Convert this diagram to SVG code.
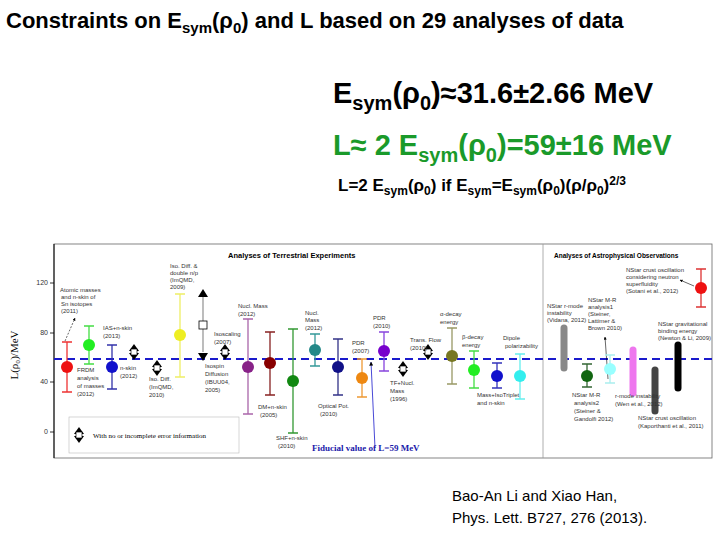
<svg xmlns="http://www.w3.org/2000/svg" width="720" height="540" viewBox="0 0 720 540">
<style>
.h{font-family:"Liberation Sans",Arial,sans-serif;font-weight:bold}
.s{font-family:"Liberation Sans",Arial,sans-serif;font-size:6px;fill:#333}
.e{stroke-width:1.3;fill:none}
.tk{stroke-width:7;stroke-linecap:round;fill:none}
</style>
<defs>
<marker id="ar" viewBox="0 0 10 10" refX="9" refY="5" markerWidth="5" markerHeight="5" orient="auto"><path d="M0,0L10,5L0,10z" fill="#000"/></marker>
<g id="sym"><path d="M0,-8L-5,-1H5z" fill="#000"/><path d="M0,8L-5,1H5z" fill="#000"/><rect x="-3" y="-3" width="6" height="6" fill="#fff" stroke="#000" stroke-width="0.7"/></g>
</defs>
<rect width="720" height="540" fill="#fff"/>
<text class="h" x="6" y="28" font-size="22">Constraints on E<tspan font-size="15" dy="5">sym</tspan><tspan dy="-5">(ρ</tspan><tspan font-size="15" dy="5">0</tspan><tspan dy="-5">) and L based on 29 analyses of data</tspan></text>
<text class="h" x="333" y="103" font-size="29">E<tspan font-size="20" dy="7">sym</tspan><tspan dy="-7">(ρ</tspan><tspan font-size="20" dy="7">0</tspan><tspan dy="-7">)≈31.6±2.66 MeV</tspan></text>
<text class="h" x="333" y="155" font-size="29" fill="#1a9a2a">L≈ 2 E<tspan font-size="20" dy="7">sym</tspan><tspan dy="-7">(ρ</tspan><tspan font-size="20" dy="7">0</tspan><tspan dy="-7">)=59±16 MeV</tspan></text>
<text class="h" x="338" y="191" font-size="17">L=2 E<tspan font-size="12" dy="4">sym</tspan><tspan dy="-4">(ρ</tspan><tspan font-size="12" dy="4">0</tspan><tspan dy="-4">) if E</tspan><tspan font-size="12" dy="4">sym</tspan><tspan dy="-4">=E</tspan><tspan font-size="12" dy="4">sym</tspan><tspan dy="-4">(ρ</tspan><tspan font-size="12" dy="4">0</tspan><tspan dy="-4">)(ρ/ρ</tspan><tspan font-size="12" dy="4">0</tspan><tspan dy="-4">)</tspan><tspan font-size="12" dy="-6">2/3</tspan></text>

<g id="plot">
<rect x="54" y="244" width="658" height="214" fill="#fff" stroke="#666" stroke-width="0.8"/>
<line x1="543" y1="244" x2="543" y2="458" stroke="#999" stroke-width="0.8"/>
<line x1="54" y1="244" x2="54" y2="458" stroke="#000" stroke-width="1"/>
<g stroke="#000" stroke-width="0.8"><line x1="50" y1="283" x2="54" y2="283"/><line x1="50" y1="333" x2="54" y2="333"/><line x1="50" y1="382" x2="54" y2="382"/><line x1="50" y1="432" x2="54" y2="432"/></g>
<g class="s" text-anchor="end" style="font-size:7px"><text x="48" y="285">120</text><text x="48" y="335">80</text><text x="48" y="384">40</text><text x="48" y="434">0</text></g>
<text x="18" y="355" transform="rotate(-90 18 355)" text-anchor="middle" font-family="Liberation Serif,serif" font-size="11">L(ρ₀)/MeV</text>
<text class="h" x="228" y="258" font-size="7.5">Analyses of Terrestrial Experiments</text>
<text class="h" x="554" y="258" font-size="6.5">Analyses of Astrophysical Observations</text>
<line x1="54" y1="359" x2="712" y2="359" stroke="#1a1acc" stroke-width="2" stroke-dasharray="8,5"/>
</g>

<g id="connectors">
<line x1="65" y1="341" x2="75" y2="318" stroke="#000" stroke-width="0.6" stroke-dasharray="2,1.5" marker-end="url(#ar)"/>
<line x1="375" y1="448" x2="371" y2="362" stroke="#1a1acc" stroke-width="0.8" marker-end="url(#ar)"/>
<line x1="608" y1="379" x2="605" y2="337" stroke="#000" stroke-width="0.6" marker-end="url(#ar)"/>
<line x1="694" y1="286" x2="680" y2="280" stroke="#000" stroke-width="0.6" marker-end="url(#ar)"/>
</g>

<g id="n1"><path class="e" stroke="#e33" d="M67,342V392M62,342H72M62,392H72"/><circle cx="67" cy="367" r="6" fill="#e11"/></g>
<g id="n2"><path class="e" stroke="#4d4" d="M89,326V364M84,326H94M84,364H94"/><circle cx="89" cy="345" r="6" fill="#2e2"/></g>
<g id="n3"><path class="e" stroke="#33a" d="M112,345V389M107,345H117M107,389H117"/><circle cx="112" cy="367" r="6" fill="#11c"/></g>
<g id="n4"><use href="#sym" x="134" y="352"/></g>
<g id="n5"><use href="#sym" x="157" y="368"/></g>
<g id="n6"><path class="e" stroke="#ee6" d="M180,294V377M175,294H185M175,377H185"/><circle cx="180" cy="335" r="6" fill="#ee2"/></g>
<g id="n7"><path class="e" stroke="#999" d="M203,297V352"/><path d="M203,289L198,297H208z" fill="#000"/><rect x="199" y="321" width="8" height="8" fill="#fff" stroke="#000" stroke-width="0.8"/><path d="M203,361L198,353H208z" fill="#000"/></g>
<g id="n8"><use href="#sym" x="225" y="352"/></g>
<g id="n9"><path class="e" stroke="#a6a" d="M248,319V414M243,319H253M243,414H253"/><circle cx="248" cy="367" r="6" fill="#828"/></g>
<g id="n10"><path class="e" stroke="#822" d="M270,332V395M265,332H275M265,395H275"/><circle cx="270" cy="363" r="6" fill="#800"/></g>
<g id="n11"><path class="e" stroke="#393" d="M293,329V433M288,329H298M288,433H298"/><circle cx="293" cy="381" r="6" fill="#181"/></g>
<g id="n12"><path class="e" stroke="#399" d="M315,334V366M310,334H320M310,366H320"/><circle cx="315" cy="350" r="6" fill="#288"/></g>
<g id="n13"><path class="e" stroke="#338" d="M338,339V395M333,339H343M333,395H343"/><circle cx="338" cy="367" r="6" fill="#118"/></g>
<g id="n14"><path class="e" stroke="#e93" d="M362,359V397M357,359H367M357,397H367"/><circle cx="362" cy="378" r="6" fill="#e81"/></g>
<g id="n15"><path class="e" stroke="#84d" d="M384,332V371M379,332H389M379,371H389"/><circle cx="384" cy="351" r="6" fill="#70c"/></g>
<g id="n16"><use href="#sym" x="403" y="369"/></g>
<g id="n17"><use href="#sym" x="428" y="352"/></g>
<g id="n18"><path class="e" stroke="#996" d="M452,328V384M447,328H457M447,384H457"/><circle cx="452" cy="356" r="6" fill="#772"/></g>
<g id="n19"><path class="e" stroke="#4d4" d="M474,351V388M469,351H479M469,388H479"/><circle cx="474" cy="370" r="6" fill="#2e2"/></g>
<g id="n20"><path class="e" stroke="#33b" d="M497,363V388M492,363H502M492,388H502"/><circle cx="497" cy="376" r="6" fill="#11c"/></g>
<g id="n21"><path class="e" stroke="#6ee" d="M520,354V399M515,354H525M515,399H525"/><circle cx="520" cy="376" r="6" fill="#3ee"/></g>
<g id="n22"><path class="tk" stroke="#888" d="M564,328V368"/></g>
<g id="n23"><path class="e" stroke="#363" d="M587,364V387M582,364H592M582,387H592"/><circle cx="587" cy="376" r="6" fill="#161"/></g>
<g id="n24"><path class="e" stroke="#aee" d="M610,355V383M605,355H615M605,383H615"/><circle cx="610" cy="369" r="6" fill="#9ff"/></g>
<g id="n25"><path class="tk" stroke="#e7e" d="M633,350V393"/></g>
<g id="n26"><path class="tk" stroke="#444" d="M655,370V411"/></g>
<g id="n27"><path class="tk" stroke="#000" d="M678,345V388"/></g>
<g id="n28"><path class="e" stroke="#d33" d="M701,269V307M696,269H706M696,307H706"/><circle cx="701" cy="288" r="6" fill="#e11"/></g>

<g id="labels" class="s">
<text x="60" y="292">Atomic masses</text><text x="61" y="299">and n-skin of</text><text x="61" y="306">Sn isotopes</text><text x="61" y="313">(2011)</text>
<text x="77" y="372">FRDM</text><text x="77" y="380">analysis</text><text x="77" y="388">of masses</text><text x="77" y="396">(2012)</text>
<text x="103" y="330">IAS+n-skin</text><text x="103" y="338">(2013)</text>
<text x="120" y="370">n-skin</text><text x="120" y="378">(2012)</text>
<text x="149" y="381">Iso. Diff.</text><text x="149" y="389">(ImQMD,</text><text x="149" y="397">2010)</text>
<text x="170" y="268">Iso. Diff. &amp;</text><text x="170" y="275">double n/p</text><text x="170" y="282">(ImQMD,</text><text x="170" y="289">2009)</text>
<text x="205" y="368">Isospin</text><text x="205" y="376">Diffusion</text><text x="205" y="384">(IBUU04,</text><text x="205" y="392">2005)</text>
<text x="214" y="336">Isoscaling</text><text x="214" y="344">(2007)</text>
<text x="238" y="308">Nucl. Mass</text><text x="238" y="316">(2012)</text>
<text x="258" y="409">DM+n-skin</text><text x="260" y="417">(2005)</text>
<text x="276" y="440">SHF+n-skin</text><text x="278" y="448">(2010)</text>
<text x="305" y="315">Nucl.</text><text x="305" y="322">Mass</text><text x="305" y="330">(2012)</text>
<text x="318" y="408">Optical Pot.</text><text x="320" y="416">(2010)</text>
<text x="352" y="345">PDR</text><text x="352" y="353">(2007)</text>
<text x="373" y="320">PDR</text><text x="373" y="328">(2010)</text>
<text x="410" y="342">Trans. Flow</text><text x="410" y="350">(2010)</text>
<text x="390" y="385">TF+Nucl.</text><text x="390" y="393">Mass</text><text x="390" y="401">(1996)</text>
<text x="440" y="316">α-decay</text><text x="440" y="324">energy</text>
<text x="462" y="339">β-decay</text><text x="462" y="347">energy</text>
<text x="503" y="340">Dipole</text><text x="505" y="348">polarizability</text>
<text x="477" y="397">Mass+IsoTriplet</text><text x="477" y="405">and n-skin</text>
<text x="547" y="308">NStar r-mode</text><text x="547" y="315">instability</text><text x="547" y="322">(Vidana, 2012)</text>
<text x="588" y="302">NStar M-R</text><text x="588" y="309">analysis1</text><text x="588" y="316">(Steiner,</text><text x="588" y="323">Lattimer &amp;</text><text x="588" y="330">Brown 2010)</text>
<text x="572" y="397">NStar M-R</text><text x="574" y="405">analysis2</text><text x="574" y="413">(Steiner &amp;</text><text x="574" y="421">Gandolfi 2012)</text>
<text x="615" y="398">r-mode instability</text><text x="615" y="406">(Wen et al., 2012)</text>
<text x="638" y="420">NStar crust oscillation</text><text x="638" y="428">(Kaporthanti et al., 2011)</text>
<text x="658" y="326">NStar gravitational</text><text x="658" y="333">binding energy</text><text x="658" y="340">(Newton &amp; Li, 2009)</text>
<text x="626" y="272">NStar crust oscillation</text><text x="626" y="279">considering neutron</text><text x="626" y="286">superfluidity</text><text x="626" y="293">(Sotani et al., 2012)</text>
</g>

<g id="legend">
<rect x="69" y="417" width="170" height="36" fill="#fff" stroke="#bbb" stroke-width="0.6"/>
<use href="#sym" x="79" y="435"/>
<text x="93" y="438" font-family="Liberation Serif,serif" font-size="7">With no or incomplete error information</text>
</g>
<text x="312" y="451" font-family="Liberation Serif,serif" font-weight="bold" font-size="9" fill="#1a1aaa">Fiducial value of L=59 MeV</text>

<g font-family="Liberation Sans,Arial,sans-serif" font-size="15">
<text x="452" y="501">Bao-An Li and Xiao Han,</text>
<text x="452" y="523">Phys. Lett. B727, 276 (2013).</text>
</g>
</svg>
